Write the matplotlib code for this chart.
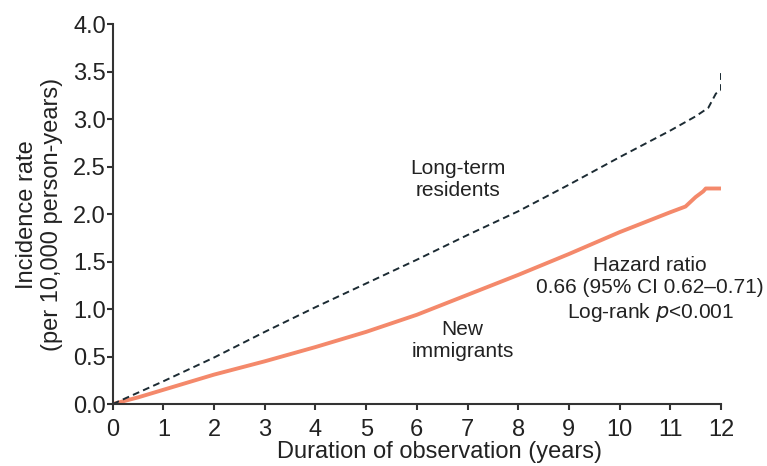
import numpy as np
import matplotlib.pyplot as plt

plt.rcParams['font.family'] = ['Liberation Sans', 'DejaVu Sans']

# long-term residents (dashed)
years_ltr = [0, 0.5, 1, 2, 3, 4, 5, 6, 7, 8, 9, 10, 11, 11.5, 11.75, 11.8, 11.9, 12, 12]
rate_ltr = [0, 0.12, 0.24, 0.49, 0.76, 1.02, 1.27, 1.52, 1.78, 2.03, 2.31, 2.6, 2.88,
            3.03, 3.12, 3.17, 3.27, 3.3, 3.5]

# new immigrants (solid)
years_ni = [0, 0.5, 1, 2, 3, 4, 5, 6, 7, 8, 9, 10, 11, 11.3, 11.5, 11.65, 11.7, 12]
rate_ni = [0, 0.07, 0.15, 0.31, 0.45, 0.6, 0.76, 0.94, 1.15, 1.36, 1.58, 1.81, 2.02,
           2.08, 2.18, 2.24, 2.27, 2.27]

xticks = list(range(0, 13))
yticks = [0.0, 0.5, 1.0, 1.5, 2.0, 2.5, 3.0, 3.5, 4.0]

fig = plt.figure(figsize=(7.67, 4.66), dpi=100)
ax = fig.add_axes([0.147, 0.133, 0.793, 0.815])

ax.plot(years_ni, rate_ni, color='#f4896b', lw=2.8, solid_capstyle='butt')
ax.plot(years_ltr, rate_ltr, color='#1c2b33', lw=1.4, ls=(0, (3.5, 2.2)))

ax.set_xlim(0, 12)
ax.set_ylim(0, 4.0)
ax.set_xticks(xticks)
ax.set_yticks(yticks)
ax.set_yticklabels([f"{v:.1f}" for v in yticks])

for s in ['top', 'right']:
    ax.spines[s].set_visible(False)
for s in ['left', 'bottom']:
    ax.spines[s].set_color('#333333')
    ax.spines[s].set_linewidth(1.5)
ax.tick_params(direction='out', length=4.5, width=1.5, color='#333333',
               labelsize=17, labelcolor='#222222')
ax.tick_params(axis='x', pad=6)
ax.tick_params(axis='y', pad=0.5)

ax.set_xlabel("Duration of observation (years)", fontsize=17, color='#222222',
              labelpad=0.5, x=0.538)
ax.set_ylabel("Incidence rate\n(per 10,000 person-years)", fontsize=17, color='#222222',
              labelpad=7, linespacing=1.2)

tkw = dict(fontsize=15, color='#222222', ha='center', va='center', linespacing=1.2)
ax.text(6.81, 2.36, "Long-term\nresidents", **tkw)
ax.text(6.9, 0.67, "New\nimmigrants", **tkw)
ax.text(10.6, 1.2, "Hazard ratio\n0.66 (95% CI 0.62\u20130.71)\nLog-rank $\\mathit{p}$<0.001", **tkw)

fig.savefig("out.png", dpi=100)
